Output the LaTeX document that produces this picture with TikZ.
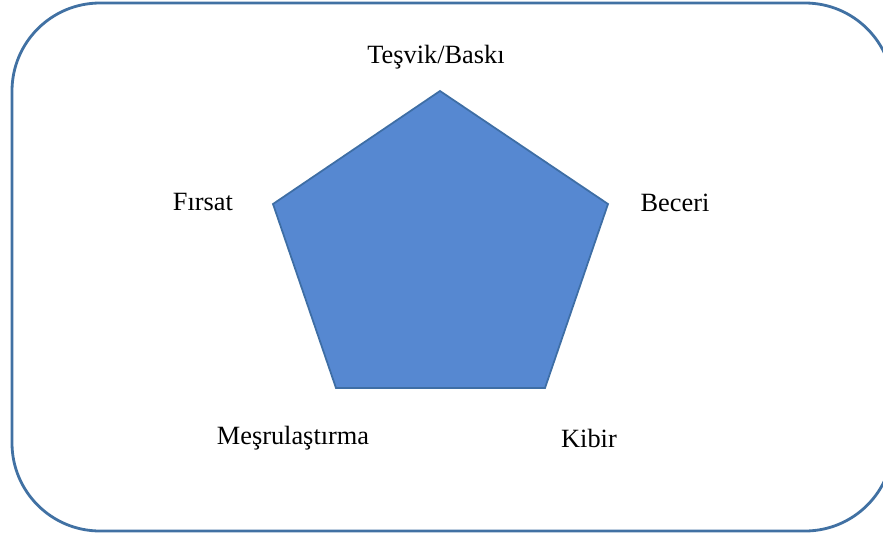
\documentclass[tikz,border=0pt]{standalone}
\usepackage{fontspec}
\setmainfont{Liberation Serif}
\usetikzlibrary{calc}
\definecolor{FrameClr}{RGB}{65,113,163}
\definecolor{PentaClr}{RGB}{86,136,209}
\definecolor{PentaLine}{RGB}{62,110,165}

\begin{document}
\begin{tikzpicture}[x=0.02cm,y=-0.02cm]
\tikzset{lbl/.style={font=\fontsize{15}{18}\selectfont,inner sep=0pt}}
\useasboundingbox (0,0) rectangle (883,538);

\begin{scope}
\clip (0,0) rectangle (883,538);
\draw[FrameClr,line width=1.6pt,rounded corners=1.76cm] (12,3) rectangle (893,531);
\end{scope}

\coordinate (T) at (440,91);
\coordinate (R) at (608,204);
\coordinate (BR) at (545,388);
\coordinate (BL) at (336,388);
\coordinate (L) at (273,204);

\filldraw[fill=PentaClr,draw=PentaLine,line width=1pt,line join=miter] (T) -- (R) -- (BR) -- (BL) -- (L) -- cycle;

\node[lbl] (tesvik) at (436,57) {Teşvik/Baskı};
\node[lbl] (firsat) at (203,202) {Fırsat};
\node[lbl] (beceri) at (675,203) {Beceri};
\node[lbl] (mesru) at (293,438) {Meşrulaştırma};
\node[lbl] (kibir) at (589,438) {Kibir};

\end{tikzpicture}
\end{document}
